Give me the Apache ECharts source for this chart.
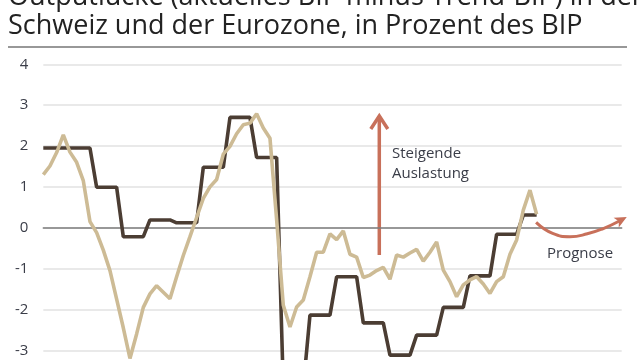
<!DOCTYPE html>
<html><head><meta charset="utf-8">
<script src="https://cdn.jsdelivr.net/npm/echarts@6/dist/echarts.min.js"></script>
<style>html,body{margin:0;padding:0;background:#fff}#c{width:640px;height:360px}</style>
</head><body><div id="c"></div>
<script>
// ---- data ----
const titleLine1 = 'Outputlücke (aktuelles BIP minus Trend-BIP) in der';
const titleLine2 = 'Schweiz und der Eurozone, in Prozent des BIP';
const yTickValues = [-4, -3, -2, -1, 0, 1, 2, 3, 4];
// annual series (drawn as quarterly steps)
const darkYears = [2000,2001,2002,2003,2004,2005,2006,2007,2008,2009,2010,2011,2012,2013,2014,2015,2016,2017,2018];
const darkValues = [1.95,1.95,0.99,-0.22,0.19,0.12,1.48,2.70,1.72,-3.9,-2.14,-1.20,-2.33,-3.12,-2.63,-1.95,-1.18,-0.16,0.31];
const darkLastYearQuarters = 3;
// quarterly series starting 2000 Q1
const beigeStartYear = 2000;
const beigeValues = [
  1.30,1.51,1.84,2.27, 1.85,1.60,1.15,0.15,
  -0.12,-0.55,-1.05,-1.75, -2.45,-3.20,-2.60,-1.95,
  -1.62,-1.42,-1.58,-1.74, -1.20,-0.68,-0.22,0.25,
  0.72,1.00,1.18,1.80, 1.99,2.30,2.52,2.56,
  2.79,2.44,2.19,0.20, -1.90,-2.43,-1.94,-1.77,
  -1.20,-0.60,-0.60,-0.15, -0.29,-0.08,-0.65,-0.72,
  -1.22,-1.16,-1.05,-0.97, -1.26,-0.67,-0.72,-0.62,
  -0.53,-0.82,-0.60,-0.35, -1.04,-1.32,-1.69,-1.40,
  -1.28,-1.20,-1.38,-1.61, -1.32,-1.20,-0.65,-0.30,
  0.43,0.92,0.33
];
const forecastPath = [[2018.48,0.13],[2019.1,-0.14],[2019.75,-0.22],[2020.4,-0.15],[2021.0,-0.02],[2021.62,0.17]];
const forecastTip = [2021.88,0.26];
const riseArrow = {year: 2012.6, from: -0.67, to: 2.76};
const riseLabel = ['Steigende', 'Auslastung'];
const forecastLabel = 'Prognose';

// ---- build ----
const darkData = [];
darkYears.forEach((y, i) => {
  const n = (i === darkYears.length - 1) ? darkLastYearQuarters : 4;
  for (let q = 0; q < n; q++) darkData.push([y + q * 0.25, darkValues[i]]);
});
const beigeData = beigeValues.map((v, k) => [beigeStartYear + k * 0.25, v]);

const FONT = '"Open Sans", "Noto Sans", sans-serif';
const TXT = '#3a3d48';
const ORANGE = '#c8705a';

const chart = echarts.init(document.getElementById('c'), null, {renderer: 'canvas'});
chart.setOption({
  animation: false,
  textStyle: {fontFamily: FONT},
  grid: {left: 43.3, width: 578.4, top: 64.3, height: 326.8, containLabel: false, outerBoundsMode: 'none'},
  xAxis: {
    type: 'value', min: 2000, max: 2021.69,
    axisLine: {show: true, onZero: true, lineStyle: {color: '#7d7d7d', width: 1.5}},
    axisTick: {show: false}, axisLabel: {show: false}, splitLine: {show: false}
  },
  yAxis: {
    type: 'value', min: yTickValues[0], max: yTickValues[yTickValues.length - 1], interval: 1,
    axisLine: {show: false}, axisTick: {show: false},
    axisLabel: {color: TXT, fontSize: 15, margin: 15, fontFamily: FONT},
    splitLine: {lineStyle: {color: '#e2e2e2', width: 1.5}}
  },
  series: [
    {type: 'line', name: 'dark', data: darkData, showSymbol: false, symbol: 'none',
     lineStyle: {color: '#4b3d33', width: 3.6}, z: 3},
    {type: 'line', name: 'beige', data: beigeData, showSymbol: false, symbol: 'none',
     lineStyle: {color: '#cdbb95', width: 3.6}, z: 4},
    {type: 'line', name: 'forecast', data: forecastPath, showSymbol: false, symbol: 'none', smooth: 0.5, clip: false,
     lineStyle: {color: ORANGE, width: 3}, z: 5}
  ]
});

const px = (p) => chart.convertToPixel({gridIndex: 0}, p);
const aTop = px([riseArrow.year, riseArrow.to]);
const aBot = px([riseArrow.year, riseArrow.from]);
const fLast = px(forecastPath[forecastPath.length - 1]);
const fTip = px(forecastTip);
const dx = fTip[0] - fLast[0], dy = fTip[1] - fLast[1];
const L = Math.hypot(dx, dy), ux = dx / L, uy = dy / L;
const hl = 12, hw = 5.5;
const base = [fTip[0] - ux * hl, fTip[1] - uy * hl];

chart.setOption({
  graphic: [
    {type: 'text', x: 8, y: -16, style: {text: titleLine1, font: '27px ' + FONT, fill: '#222', verticalAlign: 'top'}},
    {type: 'text', x: 8, y: 13, style: {text: titleLine2, font: '27px ' + FONT, fill: '#222', verticalAlign: 'top'}},
    {type: 'line', shape: {x1: 8, y1: 47, x2: 627, y2: 47}, style: {stroke: '#333', lineWidth: 1.2}},
    {type: 'line', shape: {x1: aBot[0], y1: aBot[1], x2: aTop[0], y2: aTop[1] + 1}, style: {stroke: ORANGE, lineWidth: 3.5}},
    {type: 'polyline', shape: {points: [[aTop[0] - 8.5, aTop[1] + 14], [aTop[0], aTop[1] + 1], [aTop[0] + 8.5, aTop[1] + 14]]},
     style: {stroke: ORANGE, lineWidth: 3.5, fill: null, lineJoin: 'miter'}},
    {type: 'polygon', shape: {points: [fTip, [base[0] - uy * hw, base[1] + ux * hw], [base[0] + ux * 3, base[1] + uy * 3], [base[0] + uy * hw, base[1] - ux * hw]]},
     style: {fill: ORANGE}},
    {type: 'line', shape: {x1: fLast[0], y1: fLast[1], x2: base[0] + ux * 3, y2: base[1] + uy * 3}, style: {stroke: ORANGE, lineWidth: 3}},
    {type: 'text', left: 392, top: 146, style: {text: riseLabel[0], font: '15px ' + FONT, fill: TXT}},
    {type: 'text', left: 392, top: 166, style: {text: riseLabel[1], font: '15px ' + FONT, fill: TXT}},
    {type: 'text', left: 547, top: 246, style: {text: forecastLabel, font: '15px ' + FONT, fill: TXT}}
  ]
});
</script>
</body></html>
